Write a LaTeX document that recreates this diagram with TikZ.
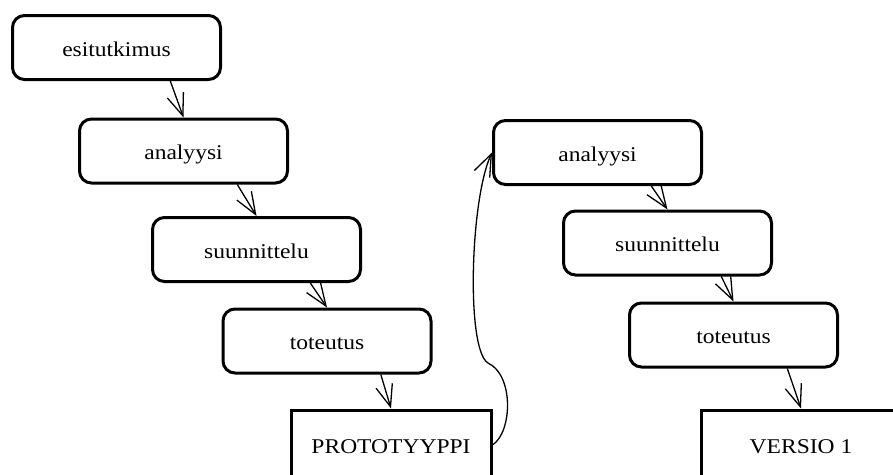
\documentclass[tikz,border=0pt]{standalone}
\usepackage{fontspec}
\setmainfont{Liberation Serif}[FakeStretch=1.12]
\usetikzlibrary{arrows.meta,calc}
\begin{document}
\begin{tikzpicture}[x=1pt,y=-1pt,
  phase/.style={draw,line width=3pt,rounded corners=12pt,minimum width=208pt,
    minimum height=64pt,inner sep=0pt,text height=18pt,text depth=1pt,
    font=\fontsize{21}{24}\selectfont},
  result/.style={phase,rounded corners=0pt,minimum width=200pt,minimum height=70pt},
  flow/.style={line width=1.3pt,-{Straight Barb[length=22pt,width=17pt,line width=1.3pt]}}]
  \useasboundingbox (0,0) rectangle (893,474);

  % first round: pre-study down to the prototype
  \node[phase]  (pre)  at (116.5,47.5) {esitutkimus};
  \node[phase]  (an1)  at (183.5,151)  {analyysi};
  \node[phase]  (de1)  at (256.5,249.5){suunnittelu};
  \node[phase]  (im1)  at (327,341)    {toteutus};
  \node[result] (proto) at (391,445)   {PROTOTYYPPI};

  % second round: down to version 1
  \node[phase]  (an2)  at (597.5,152.5){analyysi};
  \node[phase]  (de2)  at (667.5,243)  {suunnittelu};
  \node[phase]  (im2)  at (733.5,335)  {toteutus};
  \node[result] (ver)  at (801,445)    {VERSIO 1};

  \foreach \a/\b in {pre/an1,an1/de1,de1/im1,im1/proto,an2/de2,de2/im2,im2/ver}
    \draw[flow] ($(\a.south west)!0.755!(\a.south east)$) -- (\b.north);

  % feedback from the prototype into the next analysis
  \draw[flow] (proto.east) .. controls +(20,-13) and (514,375) .. (488,363)
    .. controls (466,350) and (470,200) .. (an2.west);
\end{tikzpicture}
\end{document}
